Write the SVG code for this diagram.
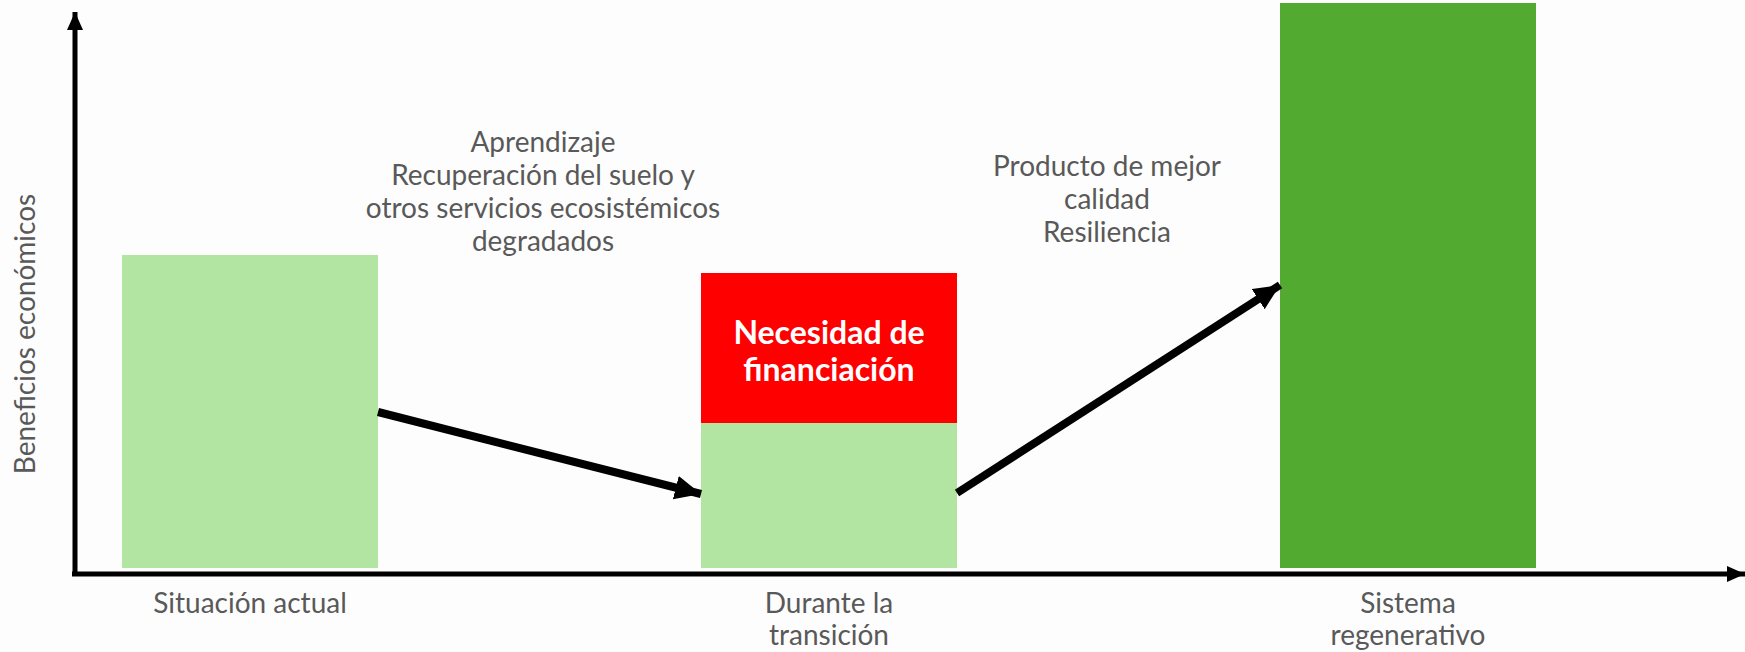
<svg xmlns="http://www.w3.org/2000/svg" width="1745" height="652" viewBox="0 0 1745 652">
<style>
.lbl{font-family:Lato,"Liberation Sans",sans-serif;font-size:28px;fill:#595959;text-anchor:middle}
.in{font-family:Lato,"Liberation Sans",sans-serif;font-size:32px;font-weight:bold;fill:#ffffff;text-anchor:middle}
.ax{stroke:#000;stroke-width:5;fill:none}
.con{stroke:#000;stroke-width:8;fill:none}
</style>
<defs>
<marker id="axh" markerUnits="userSpaceOnUse" markerWidth="20" markerHeight="20" refX="18" refY="8" orient="auto">
<path d="M0,0 L18,8 L0,16 z" fill="#000"/>
</marker>
<marker id="ah" markerUnits="userSpaceOnUse" markerWidth="30" markerHeight="30" refX="26" refY="12" orient="auto">
<path d="M0,0 L26,12 L0,24 z" fill="#000"/>
</marker>
</defs>
<rect width="1745" height="652" fill="#fdfdfd"/>
<g id="axes">
<line class="ax" x1="75" y1="576" x2="75" y2="12" marker-end="url(#axh)"/>
<line class="ax" x1="72" y1="574" x2="1745" y2="574" marker-end="url(#axh)"/>
<text class="lbl" transform="translate(35,334) rotate(-90)" font-size="26">Beneficios económicos</text>
</g>
<g id="situacion-actual">
<rect x="122" y="255" width="256" height="313" fill="#b2e5a2"/>
<text class="lbl" x="250" y="613">Situación actual</text>
</g>
<g id="durante-transicion">
<rect x="701" y="423" width="256" height="145" fill="#b2e5a2"/>
<rect x="701" y="273" width="256" height="150" fill="#ff0000"/>
<text class="in" x="829" y="344">Necesidad de</text>
<text class="in" x="829" y="381">financiación</text>
<text class="lbl" x="829" y="613">Durante la</text>
<text class="lbl" x="829" y="645">transición</text>
</g>
<g id="sistema-regenerativo">
<rect x="1280" y="3" width="256" height="565" fill="#52aa31"/>
<text class="lbl" x="1408" y="613">Sistema</text>
<text class="lbl" x="1408" y="645">regenerativo</text>
</g>
<g id="label-aprendizaje">
<text class="lbl" x="543" y="152">Aprendizaje</text>
<text class="lbl" x="543" y="185">Recuperación del suelo y</text>
<text class="lbl" x="543" y="218">otros servicios ecosistémicos</text>
<text class="lbl" x="543" y="251">degradados</text>
</g>
<g id="label-producto">
<text class="lbl" x="1107" y="176">Producto de mejor</text>
<text class="lbl" x="1107" y="209">calidad</text>
<text class="lbl" x="1107" y="242">Resiliencia</text>
</g>
<g id="connectors">
<line class="con" x1="378" y1="412" x2="701" y2="494" marker-end="url(#ah)"/>
<line class="con" x1="957" y1="493" x2="1280" y2="285" marker-end="url(#ah)"/>
</g>
</svg>
